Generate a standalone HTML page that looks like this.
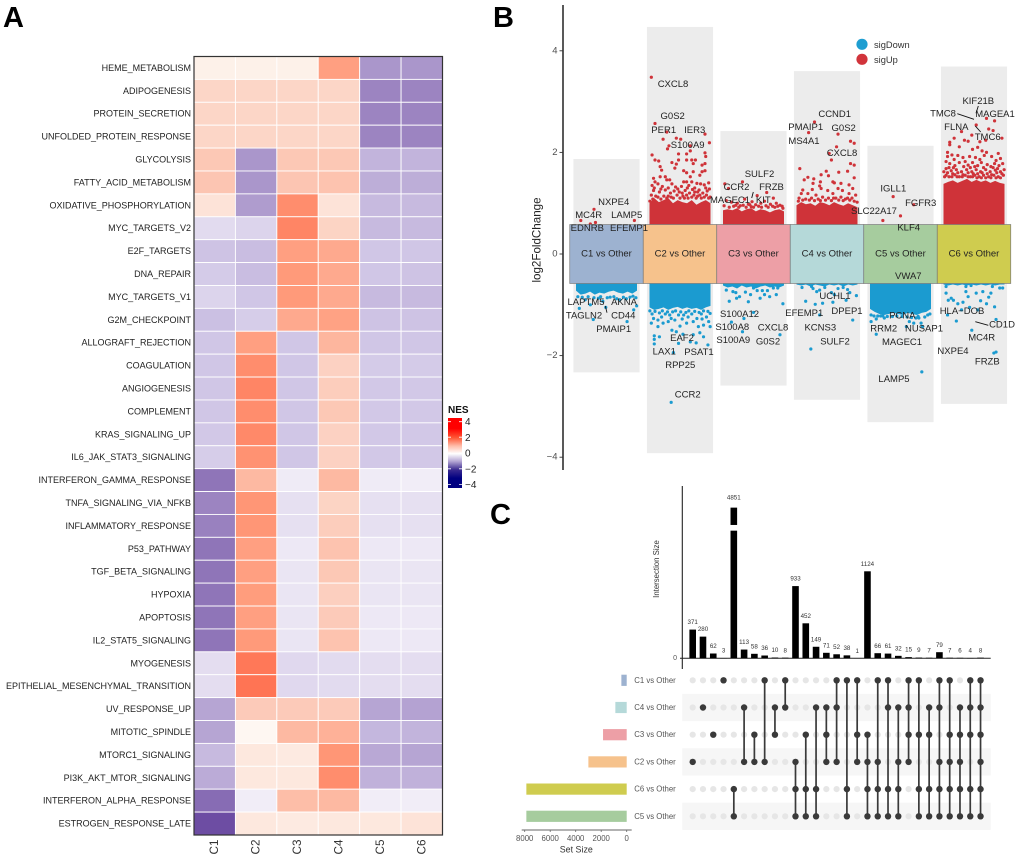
<!DOCTYPE html>
<html lang="en">
<head>
<meta charset="utf-8">
<title>NES heatmap, volcano plot and UpSet plot</title>
<style>
html,body{margin:0;padding:0;background:#fff;}
svg{display:block;font-family:"Liberation Sans",sans-serif;}
.gene{font-size:9.5px;fill:#222;text-anchor:middle;dominant-baseline:central;}
.panel{font-size:29px;font-weight:700;fill:#000;}
</style>
</head>
<body>
<svg id="fig" xmlns="http://www.w3.org/2000/svg" width="1020" height="861" viewBox="0 0 1020 861">
  <defs>
    <linearGradient id="nesGrad" x1="0" y1="0" x2="0" y2="1">
      <stop offset="0" stop-color="#ff0000"/>
      <stop offset="0.15" stop-color="#ff0000"/>
      <stop offset="0.28" stop-color="#ff5533"/>
      <stop offset="0.40" stop-color="#ffbdaa"/>
      <stop offset="0.51" stop-color="#ffffff"/>
      <stop offset="0.62" stop-color="#b3a5d3"/>
      <stop offset="0.74" stop-color="#3a2a90"/>
      <stop offset="0.86" stop-color="#000080"/>
      <stop offset="1" stop-color="#000080"/>
    </linearGradient>
  </defs>

  <text class="panel" x="3" y="27">A</text>
  <text class="panel" x="493" y="27">B</text>
  <text class="panel" x="490" y="524">C</text>

  <g id="heatmap"></g>

  <g>
    <text x="448" y="413" font-size="10" font-weight="700" fill="#111">NES</text>
    <rect x="448" y="418" width="14" height="70" fill="url(#nesGrad)"/>
    <g stroke="#fff" stroke-width="0.8">
      <path d="M448 421.7h3M459 421.7h3M448 437.2h3M459 437.2h3M448 453h3M459 453h3M448 468.8h3M459 468.8h3M448 484.5h3M459 484.5h3"/>
    </g>
    <g font-size="10" fill="#222">
      <text x="465" y="425">4</text>
      <text x="465" y="441">2</text>
      <text x="465" y="456.5">0</text>
      <text x="465" y="472.5">−2</text>
      <text x="465" y="488">−4</text>
    </g>
  </g>

  <g id="volcano"></g>

  <g>
    <text class="gene" x="673" y="84.7">CXCL8</text>
    <text class="gene" x="672.7" y="116.3">G0S2</text>
    <text class="gene" x="663.7" y="130.3">PER1</text>
    <text class="gene" x="694.7" y="130.3">IER3</text>
    <text class="gene" x="687.7" y="145.7">S100A9</text>
    <text class="gene" x="613.7" y="202.3">NXPE4</text>
    <text class="gene" x="588.7" y="215.3">MC4R</text>
    <text class="gene" x="626.7" y="215.3">LAMP5</text>
    <text class="gene" x="587.3" y="228.7">EDNRB</text>
    <text class="gene" x="629" y="228.7">EFEMP1</text>
    <text class="gene" x="759.5" y="174.5">SULF2</text>
    <text class="gene" x="736.5" y="187.3">CCR2</text>
    <text class="gene" x="771.5" y="187.3">FRZB</text>
    <text class="gene" x="730" y="200.3">MAGEC1</text>
    <text class="gene" x="763.3" y="200.3">KIT</text>
    <text class="gene" x="834.7" y="114.3">CCND1</text>
    <text class="gene" x="805.7" y="127.7">PMAIP1</text>
    <text class="gene" x="843.7" y="128.7">G0S2</text>
    <text class="gene" x="804" y="141.3">MS4A1</text>
    <text class="gene" x="842" y="153.7">CXCL8</text>
    <text class="gene" x="893.3" y="189">IGLL1</text>
    <text class="gene" x="920.7" y="203.7">FGFR3</text>
    <text class="gene" x="874" y="211.7">SLC22A17</text>
    <text class="gene" x="908.7" y="228">KLF4</text>
    <text class="gene" x="978.3" y="101.7">KIF21B</text>
    <text class="gene" x="943" y="114">TMC8</text>
    <text class="gene" x="995" y="114.3">MAGEA1</text>
    <text class="gene" x="956.3" y="127.7">FLNA</text>
    <text class="gene" x="987.7" y="137.3">TMC6</text>
    <text class="gene" x="908.3" y="276.7">VWA7</text>
    <text class="gene" x="586" y="302.7">LAPTM5</text>
    <text class="gene" x="624" y="302.3">AKNA</text>
    <text class="gene" x="584" y="316">TAGLN2</text>
    <text class="gene" x="623.3" y="316">CD44</text>
    <text class="gene" x="613.7" y="329.3">PMAIP1</text>
    <text class="gene" x="682" y="338.7">EAF2</text>
    <text class="gene" x="664.3" y="352">LAX1</text>
    <text class="gene" x="699" y="352.3">PSAT1</text>
    <text class="gene" x="680.3" y="365.3">RPP25</text>
    <text class="gene" x="687.7" y="395">CCR2</text>
    <text class="gene" x="739.5" y="314.3">S100A12</text>
    <text class="gene" x="732.3" y="327.3">S100A8</text>
    <text class="gene" x="733.3" y="340.7">S100A9</text>
    <text class="gene" x="773" y="328">CXCL8</text>
    <text class="gene" x="768" y="342">G0S2</text>
    <text class="gene" x="835" y="296.7">UCHL1</text>
    <text class="gene" x="847" y="311.3">DPEP1</text>
    <text class="gene" x="804.3" y="313.7">EFEMP1</text>
    <text class="gene" x="820.3" y="328">KCNS3</text>
    <text class="gene" x="835" y="342">SULF2</text>
    <text class="gene" x="902.3" y="316">PCNA</text>
    <text class="gene" x="883.7" y="329">RRM2</text>
    <text class="gene" x="924" y="329">NUSAP1</text>
    <text class="gene" x="902" y="342.3">MAGEC1</text>
    <text class="gene" x="894" y="379.3">LAMP5</text>
    <text class="gene" x="962" y="311.7">HLA−DOB</text>
    <text class="gene" x="1002" y="325">CD1D</text>
    <text class="gene" x="981.7" y="338">MC4R</text>
    <text class="gene" x="953" y="351.3">NXPE4</text>
    <text class="gene" x="987.3" y="362">FRZB</text>
    <path d="M957.3 113.7L974 119.3M978.3 106L976 113.3M975.3 126L980.7 132M751.7 198L753.3 192M605.3 306L607 312.7M975.3 321.7L988.3 325.3" stroke="#111" stroke-width="0.9" fill="none"/>
  </g>

  <g>
    <circle cx="862" cy="44.3" r="5.6" fill="#1f9ed1"/>
    <circle cx="862" cy="59.3" r="5.6" fill="#d1343b"/>
    <text x="874" y="48" font-size="9.3" fill="#333">sigDown</text>
    <text x="874" y="63" font-size="9.3" fill="#333">sigUp</text>
  </g>

  <g id="upset"></g>
</svg>

<script>
/* ---------- Panel A data ---------- */
const hallmarkPathways = ["HEME_METABOLISM","ADIPOGENESIS","PROTEIN_SECRETION","UNFOLDED_PROTEIN_RESPONSE","GLYCOLYSIS","FATTY_ACID_METABOLISM","OXIDATIVE_PHOSPHORYLATION","MYC_TARGETS_V2","E2F_TARGETS","DNA_REPAIR","MYC_TARGETS_V1","G2M_CHECKPOINT","ALLOGRAFT_REJECTION","COAGULATION","ANGIOGENESIS","COMPLEMENT","KRAS_SIGNALING_UP","IL6_JAK_STAT3_SIGNALING","INTERFERON_GAMMA_RESPONSE","TNFA_SIGNALING_VIA_NFKB","INFLAMMATORY_RESPONSE","P53_PATHWAY","TGF_BETA_SIGNALING","HYPOXIA","APOPTOSIS","IL2_STAT5_SIGNALING","MYOGENESIS","EPITHELIAL_MESENCHYMAL_TRANSITION","UV_RESPONSE_UP","MITOTIC_SPINDLE","MTORC1_SIGNALING","PI3K_AKT_MTOR_SIGNALING","INTERFERON_ALPHA_RESPONSE","ESTROGEN_RESPONSE_LATE"];
const clusterNames = ["C1","C2","C3","C4","C5","C6"];
const nesValues = [
[0.2,0.2,0.2,1.9,-1.8,-1.8],
[0.8,0.8,0.8,0.8,-2.1,-2.1],
[0.8,0.8,0.8,0.8,-2.1,-2.1],
[0.8,0.8,0.8,0.8,-2.1,-2.1],
[1.1,-1.8,1.1,1.1,-1.3,-1.3],
[1.15,-1.8,1.15,1.2,-1.4,-1.4],
[0.5,-1.7,2.3,0.5,-1.2,-1.2],
[-0.55,-0.7,2.5,0.85,-1.2,-1.2],
[-1.05,-1.15,1.9,1.7,-1,-1],
[-0.9,-1.15,2,1.7,-1,-1.05],
[-0.7,-1,2,1.7,-1.2,-1.2],
[-1.1,-0.85,1.7,1.85,-1.05,-1.05],
[-1,1.9,-1,1.45,-1,-1],
[-1,2.3,-1,0.9,-0.9,-0.9],
[-1,2.5,-1,1,-0.95,-0.95],
[-1,2.3,-1,1.1,-0.95,-0.95],
[-0.95,2.4,-1,0.9,-0.95,-0.95],
[-0.85,2.2,-1,0.9,-0.95,-0.95],
[-2.35,1.4,-0.25,1.4,-0.25,-0.2],
[-2.1,2.1,-0.45,0.85,-0.45,-0.45],
[-2.15,2.1,-0.45,1,-0.45,-0.45],
[-2.35,1.9,-0.3,1.2,-0.3,-0.3],
[-2.35,1.9,-0.35,1.1,-0.35,-0.35],
[-2.35,1.95,-0.35,0.95,-0.35,-0.35],
[-2.35,1.9,-0.35,1.05,-0.3,-0.3],
[-2.35,2,-0.35,1.2,-0.3,-0.3],
[-0.5,2.8,-0.6,-0.55,-0.5,-0.5],
[-0.5,2.9,-0.6,-0.55,-0.5,-0.5],
[-1.55,1.05,1.05,1.05,-1.55,-1.6],
[-1.55,0.1,1.4,1.55,-1.25,-1.3],
[-1.2,0.4,0.35,2.1,-1.5,-1.55],
[-1.45,0.4,0.4,2.3,-1.35,-1.35],
[-2.5,-0.2,1.3,1.4,-0.2,-0.2],
[-3,0.4,0.35,0.4,0.4,0.5]
];

/* ---------- Panel B data ---------- */
const comparisonNames = ["C1 vs Other","C2 vs Other","C3 vs Other","C4 vs Other","C5 vs Other","C6 vs Other"];
const comparisonFill = ["#9db2d0","#f6c28c","#ed9fa6","#b5d9d9","#a6cc9e","#cfcc4f"];
const yTickValues = [4,2,0,-2,-4];
const groupMaxFC = [1.87,4.47,2.42,3.6,2.13,3.69];
const groupMinFC = [-2.33,-3.92,-2.59,-2.87,-3.31,-2.95];
/* dense-mass upper/lower edges, log2FC sampled evenly across each group's jitter range */
const massUp = [
 [],
 [1.0,1.1,1.02,1.06,1.1,1.0,1.06,1.02,1.0,1.06,0.97,1.02,1.06,1.0],
 [0.86,0.88,0.86,0.9,0.84,0.88,0.9,0.84,0.88,0.86,0.82,0.86,0.88,0.84],
 [0.96,1.02,0.98,1.0,0.95,1.02,1.0,0.96,1.02,0.98,0.95,1.0,0.96,0.92],
 [],
 [1.38,1.42,1.45,1.4,1.44,1.48,1.42,1.46,1.42,1.45,1.4,1.44,1.4,1.38]
];
const massDown = [
 [-0.72,-0.8,-0.78,-0.74,-0.8,-0.76,-0.78,-0.74,-0.72,-0.76,-0.78,-0.74,-0.78,-0.72],
 [-1.05,-1.1,-1.08,-1.05,-1.1,-1.06,-1.04,-1.08,-1.05,-1.08,-1.06,-1.1,-1.05,-1.02],
 [-0.62,-0.66,-0.64,-0.68,-0.62,-0.66,-0.64,-0.68,-0.64,-0.62,-0.66,-0.64,-0.66,-0.62],
 [-0.6,-0.62,-0.6,-0.64,-0.6,-0.62,-0.64,-0.6,-0.62,-0.6,-0.64,-0.6,-0.62,-0.6],
 [-1.08,-1.14,-1.18,-1.2,-1.18,-1.16,-1.18,-1.2,-1.16,-1.18,-1.2,-1.16,-1.14,-1.08],
 [-0.6,-0.62,-0.6,-0.62,-0.6,-0.62,-0.6,-0.62,-0.6,-0.62,-0.6,-0.62,-0.6,-0.6]
];
/* individual genes: [jitter within group, log2FC] */
const upPoints = [
 [[-0.35,0.66],[-0.17,0.88],[-0.22,0.59],[-0.15,0.62],[0.38,0.66]],
 [[-0.39,3.48],[-0.34,2.57],[-0.18,2.4],[-0.23,2.26],[-0.05,2.28],[0.01,2.26],[0.34,2.36],[0.4,2.19],[-0.15,2.13],[-0.17,2.07],[0.14,2.13],[0.14,2.03],[0.09,1.97],[-0.38,1.95],[-0.02,1.97],[0.34,1.99],[0.35,1.92],[-0.34,1.85],[-0.29,1.83],[-0.02,1.85],[0.09,1.85],[0.16,1.85],[0.21,1.85],[-0.11,1.8],[-0.05,1.77],[0.18,1.78],[0.3,1.75],[0.34,1.78],[-0.27,1.72],[-0.25,1.65],[-0.07,1.69],[0.05,1.64],[0.09,1.6],[0.3,1.62],[0.34,1.64],[-0.27,1.52],[-0.2,1.52],[0.14,1.52],[0.18,1.62],[-0.36,1.49],[0.27,1.55],[-0.34,1.42],[-0.18,1.46],[-0.14,1.46],[0.05,1.42],[0.09,1.42],[0.16,1.42],[0.23,1.39],[-0.38,1.35],[-0.3,1.38],[-0.24,1.33],[-0.11,1.38],[-0.06,1.32],[0.02,1.33],[0.12,1.35],[0.2,1.3],[0.28,1.38],[0.33,1.36],[0.39,1.4],[-0.36,1.25],[-0.28,1.22],[-0.2,1.26],[-0.13,1.2],[-0.08,1.24],[-0.01,1.22],[0.07,1.25],[0.13,1.2],[0.2,1.22],[0.26,1.26],[0.31,1.2],[0.37,1.24],[-0.33,1.14],[-0.16,1.14],[0.04,1.14],[0.24,1.14],[0.41,1.12],
  [-0.39,1.16],[-0.37,1.08],[-0.3,1.12],[-0.26,1.08],[-0.22,1.14],[-0.18,1.1],[-0.12,1.12],[-0.09,1.1],[-0.04,1.16],[0,1.1],[0.03,1.2],[0.06,1.1],[0.09,1.16],[0.11,1.1],[0.16,1.12],[0.19,1.16],[0.22,1.1],[0.27,1.16],[0.29,1.1],[0.33,1.12],[0.36,1.16],[0.39,1.1],[-0.41,1.04],[-0.35,1.3],[-0.26,1.28],[-0.16,1.3],[-0.03,1.28],[0.1,1.3],[0.17,1.27],[0.24,1.22],[0.35,1.3],[0.4,1.28]],
 [[-0.39,1.38],[-0.34,1.29],[-0.15,1.42],[0.05,1.15],[0.18,1.21],[-0.02,1.03],[0.27,1.1],[-0.37,1.05],[-0.3,1.02],[-0.22,1.0],[-0.12,1.08],[-0.07,0.98],[0.1,1.0],[0.15,1.04],[0.23,0.98],[0.31,1.0],[0.36,0.96],[0.39,0.94],[-0.27,0.94],[-0.18,0.95],[-0.03,0.93],[0.07,0.94],
  [-0.4,0.95],[-0.33,0.92],[-0.24,0.96],[-0.2,0.92],[-0.14,0.96],[-0.1,0.92],[-0.05,0.97],[0,0.92],[0.03,0.97],[0.11,0.92],[0.17,0.95],[0.2,0.92],[0.26,0.94],[0.29,0.92],[0.33,0.94],[0.4,0.9]],
 [[-0.17,2.6],[-0.25,2.39],[0.15,2.36],[0.32,2.22],[0.37,2.18],[0.13,2.11],[0.03,1.98],[0.06,1.85],[0.32,1.78],[0.37,1.75],[-0.37,1.68],[-0.01,1.63],[0.16,1.61],[0.28,1.63],[0.02,1.54],[-0.26,1.51],[-0.18,1.48],[-0.31,1.46],[-0.08,1.56],[-0.09,1.42],[0.37,1.5],[0.08,1.42],[-0.19,1.39],[-0.1,1.34],[0.1,1.4],[0.19,1.39],[-0.33,1.26],[0.3,1.36],[0.35,1.29],[-0.2,1.27],[-0.08,1.29],[0.01,1.25],[0.15,1.29],[0.21,1.25],[0.3,1.19],[0.39,1.16],[-0.35,1.19],[-0.26,1.19],[-0.15,1.16],[0.08,1.19],[-0.38,1.1],[-0.29,1.08],[-0.06,1.12],[0.12,1.1],[0.25,1.08],[0.34,1.1],
  [-0.39,1.04],[-0.33,1.06],[-0.24,1.06],[-0.21,1.1],[-0.17,1.05],[-0.12,1.08],[-0.09,1.05],[-0.02,1.06],[0.02,1.1],[0.06,1.05],[0.09,1.1],[0.16,1.06],[0.19,1.12],[0.22,1.05],[0.28,1.1],[0.31,1.06],[0.37,1.04],[0.41,1.02]],
 [[-0.1,1.13],[0,0.75],[-0.24,0.66],[0.18,0.97]],
 [[0.17,2.67],[0.28,2.62],[0.03,2.54],[-0.17,2.41],[0.2,2.46],[0.26,2.43],[-0.03,2.34],[0.38,2.28],[-0.27,2.28],[-0.33,2.2],[-0.13,2.24],[-0.08,2.22],[0.08,2.21],[0.16,2.24],[-0.33,2.15],[-0.2,2.11],[0.05,2.1],[-0.02,2.06],[0.11,2.03],[0.17,2.0],[0.14,1.94],[-0.36,2.0],[-0.36,1.92],[-0.3,1.95],[-0.27,1.86],[-0.22,1.94],[-0.15,1.9],[-0.06,1.92],[0.02,1.9],[0.08,1.86],[0.24,1.92],[0.33,1.98],[0.36,1.88],[0.3,1.84],[-0.38,1.82],[-0.33,1.78],[-0.26,1.74],[-0.2,1.8],[-0.12,1.82],[-0.08,1.75],[-0.02,1.8],[0.05,1.74],[0.1,1.8],[0.18,1.76],[0.23,1.72],[0.28,1.78],[0.34,1.74],[0.39,1.78],[-0.38,1.68],[-0.31,1.64],[-0.24,1.66],[-0.17,1.62],[-0.1,1.66],[-0.03,1.62],[0.03,1.66],[0.09,1.62],[0.16,1.66],[0.22,1.62],[0.29,1.65],[0.36,1.62],[-0.38,1.55],[-0.34,1.52],[-0.26,1.56],[-0.2,1.52],[-0.12,1.55],[-0.05,1.52],[0.01,1.55],[0.07,1.52],[0.13,1.55],[0.2,1.52],[0.27,1.55],[0.33,1.52],[0.4,1.55],
  [-0.41,1.62],[-0.36,1.6],[-0.29,1.58],[-0.22,1.6],[-0.15,1.56],[-0.08,1.6],[-0.01,1.58],[0.05,1.58],[0.11,1.6],[0.18,1.58],[0.24,1.56],[0.31,1.6],[0.38,1.58],[0.41,1.66],[-0.4,1.52],[-0.3,1.52],[-0.23,1.52],[-0.16,1.52],[-0.08,1.52],[-0.02,1.52],[0.04,1.5],[0.1,1.5],[0.16,1.5],[0.23,1.5],[0.3,1.5],[0.36,1.5],[-0.34,1.7],[-0.28,1.7],[-0.14,1.72],[-0.05,1.7],[0.01,1.72],[0.13,1.7],[0.26,1.7],[0.32,1.68]]
];
const downPoints = [
 [[-0.37,-1.07],[-0.22,-1.0],[-0.18,-1.29],[0.28,-1.33],[0.37,-1.1],[-0.01,-1.05],[0.41,-1.02],[-0.29,-0.9],[0.18,-0.9],[-0.11,-0.87],[0.05,-0.85],[-0.33,-0.85],[0.32,-0.85],[-0.05,-0.93],
  [-0.39,-0.84],[-0.25,-0.84],[-0.17,-0.86],[-0.08,-0.84],[0.01,-0.86],[0.1,-0.84],[0.14,-0.88],[0.23,-0.85],[0.27,-0.88],[0.36,-0.83],[0.4,-0.86]],
 [[-0.12,-2.92],[-0.09,-1.94],[-0.35,-1.61],[-0.35,-1.68],[-0.35,-1.77],[-0.28,-1.63],[-0.02,-1.76],[0.38,-1.79],[0.22,-1.75],[0.14,-1.73],[0.32,-1.63],[0.27,-1.55],[0.18,-1.59],[0.04,-1.58],[-0.05,-1.53],[-0.11,-1.5],[-0.39,-1.36],[-0.3,-1.43],[-0.23,-1.36],[-0.16,-1.33],[-0.07,-1.3],[0,-1.42],[0.09,-1.36],[0.18,-1.33],[0.25,-1.43],[0.32,-1.4],[0.39,-1.33],[0.41,-1.43],[-0.36,-1.27],[-0.25,-1.24],[-0.14,-1.2],[-0.02,-1.2],[0.11,-1.24],[0.23,-1.27],[0.36,-1.24],[0.41,-1.17],[-0.3,-1.3],[-0.38,-1.18],[-0.2,-1.18],[0.05,-1.2],[0.16,-1.18],[0.29,-1.18],
  [-0.41,-1.12],[-0.34,-1.13],[-0.28,-1.16],[-0.24,-1.12],[-0.17,-1.14],[-0.1,-1.14],[-0.06,-1.12],[0.01,-1.14],[0.08,-1.15],[0.12,-1.12],[0.2,-1.13],[0.26,-1.15],[0.32,-1.12],[0.38,-1.13],[-0.12,-1.27],[0.03,-1.28],[0.3,-1.28]],
 [[-0.3,-1.34],[-0.15,-1.53],[-0.33,-0.93],[-0.37,-0.71],[-0.28,-0.74],[-0.23,-0.87],[-0.19,-0.84],[-0.07,-0.94],[-0.13,-1.27],[0,-0.67],[0.09,-0.87],[0.15,-0.8],[0,-1.15],[0.4,-0.98],[0.36,-1.59],[0.33,-0.67],[0.31,-0.8],[0.27,-0.67],[0.22,-0.84],[-0.11,-0.75],[0.05,-0.72],[-0.24,-0.76],[0.12,-0.72],[0.19,-0.72],[-0.04,-0.8]],
 [[-0.22,-1.87],[0.35,-1.3],[-0.29,-0.93],[-0.1,-1.2],[-0.16,-0.99],[-0.06,-0.97],[0.08,-0.95],[0.26,-0.91],[0.4,-0.82],[-0.34,-0.66],[-0.19,-0.68],[-0.1,-0.71],[0.06,-0.76],[0.15,-0.68],[0.22,-0.66],[0.31,-0.76],[-0.21,-0.64],[-0.03,-0.66],[0.28,-0.7],[-0.14,-0.74],[0.1,-0.8]],
 [[-0.33,-1.58],[0.29,-2.32],[-0.4,-1.33],[-0.33,-1.28],[-0.22,-1.26],[0.08,-1.43],[0.12,-1.33],[0.21,-1.26],[0.28,-1.36],[0.37,-1.2],[0.3,-1.43],[-0.36,-1.22],[0.18,-1.36],[0.25,-1.26],[-0.27,-1.22],
  [-0.4,-1.2],[-0.31,-1.22],[-0.24,-1.22],[-0.18,-1.23],[-0.11,-1.23],[-0.05,-1.22],[0.02,-1.23],[0.09,-1.24],[0.15,-1.25],[0.24,-1.23],[0.33,-1.24],[0.4,-1.18]],
 [[-0.03,-1.5],[0.3,-1.29],[-0.24,-1.32],[0.3,-1.93],[0.27,-1.95],[-0.38,-0.77],[-0.31,-0.87],[-0.17,-1.1],[-0.36,-1.2],[-0.35,-0.91],[-0.28,-0.91],[-0.11,-0.74],[-0.08,-0.84],[0.03,-0.77],[0.12,-0.74],[0.23,-0.77],[0.35,-0.67],[0.39,-0.67],[0.28,-1.04],[0.17,-0.98],[-0.06,-1.05],[0.05,-1.1],[-0.38,-0.64],[-0.11,-0.64],[-0.04,-0.62],[0.25,-0.64],[-0.22,-0.98],[0.09,-0.92],[0.2,-0.85],[-0.15,-0.95]]
];

/* ---------- Panel C data ---------- */
const intersectionSizes = [371,280,62,3,4851,113,58,36,10,8,933,452,149,71,52,38,1,1124,66,61,32,15,9,7,79,7,6,4,8];
const setNames = ["C1 vs Other","C4 vs Other","C3 vs Other","C2 vs Other","C6 vs Other","C5 vs Other"];
const setSizes = [418,890,1856,3006,7870,7870];
const setFill = ["#9db2d0","#b5d9d9","#ed9fa6","#f6c28c","#cfcc4f","#a6cc9e"];
const setAxisTicks = [8000,6000,4000,2000,0];
/* membership: indices into setNames for each intersection column */
const memberships = [[3],[1],[2],[0],[4,5],[1,3],[2,3],[0,3],[1,2],[0,1],[3,4,5],[2,4,5],[1,4,5],[1,2,3],[0,1,3],[0,4,5],[0,2,3],[2,3,4,5],[0,3,4,5],[0,1,4,5],[1,3,4,5],[0,1,2,3],[0,2,4,5],[1,2,4,5],[0,1,3,4,5],[0,2,3,4,5],[1,2,3,4,5],[0,1,2,4,5],[0,1,2,3,4,5]];

/* ---------- helpers and axis functions ---------- */
const NS = "http://www.w3.org/2000/svg";
function mk(parent, tag, attrs, txt){
  const e = document.createElementNS(NS, tag);
  for (const k in attrs) e.setAttribute(k, attrs[k]);
  if (txt !== undefined) e.textContent = txt;
  parent.appendChild(e);
  return e;
}
const heatStops = [[-4,[0,0,127]],[-3,[109,77,163]],[-2,[161,138,196]],[-1,[208,198,230]],[-0.5,[228,221,240]],[-0.15,[243,240,248]],[0,[255,255,255]],[0.15,[253,243,236]],[1,[252,205,188]],[2,[255,154,122]],[3,[255,112,80]],[4,[255,0,0]]];
function heatColor(v){
  const c = Math.max(-4, Math.min(4, v));
  for (let i = 0; i < heatStops.length - 1; i++){
    const a = heatStops[i], b = heatStops[i + 1];
    if (c <= b[0]){
      const t = (c - a[0]) / (b[0] - a[0]);
      return "rgb(" + a[1].map((p, k) => Math.round(p + (b[1][k] - p) * t)).join(",") + ")";
    }
  }
  return "#f00";
}

/* ---------- Panel A ---------- */
const hm = document.getElementById("heatmap");
const hmLeft = 194, hmTop = 56.5, hmW = 248.5, hmH = 778.5;
const hmX = j => hmLeft + j * hmW / clusterNames.length;
const hmY = i => hmTop + i * hmH / hallmarkPathways.length;
hallmarkPathways.forEach((name, i) => {
  const rowLabel = mk(hm, "text", {x:191, y:hmY(i + 0.5), "font-size":9, fill:"#222", "text-anchor":"end", "dominant-baseline":"central"}, name);
  
  
  nesValues[i].forEach((v, j) => {
    const cell = mk(hm, "rect", {x:hmX(j), y:hmY(i), width:hmW / 6, height:hmH / 34, fill:heatColor(v), stroke:"#fff", "stroke-width":0.9});
    
    
  });
});
clusterNames.forEach((name, j) => {
  const cx = hmX(j + 0.5);
  const colLabel = mk(hm, "text", {x:cx, y:847, "font-size":11.7, fill:"#333", "text-anchor":"middle", "dominant-baseline":"central", transform:"rotate(-90 " + cx + " 847)"}, name);
  
  
});
const hmFrame = mk(hm, "rect", {x:hmLeft, y:hmTop, width:hmW, height:hmH, fill:"none", stroke:"#333", "stroke-width":1.2});



/* ---------- Panel B ---------- */
const vo = document.getElementById("volcano");
const fcY = v => 254 - 50.8 * v;
const catX = c => 606.5 + 73.5 * c;
const bandHalf = 0.58;
const massHalf = 0.415;
comparisonNames.forEach((name, c) => {
  const box = mk(vo, "rect", {x:catX(c - 0.45), y:fcY(groupMaxFC[c]), width:catX(0.45) - catX(-0.45), height:fcY(groupMinFC[c]) - fcY(groupMaxFC[c]), fill:"#ececec"});
  
  
});
function drawMass(list, color, sign){
  list.forEach((edge, c) => {
    if (!edge.length) return;
    const pts = [[catX(c - massHalf), fcY(sign * bandHalf)]];
    edge.forEach((v, k) => pts.push([catX(c - massHalf + 2 * massHalf * k / (edge.length - 1)), fcY(v)]));
    pts.push([catX(c + massHalf), fcY(sign * bandHalf)]);
    const mass = mk(vo, "polygon", {points:pts.map(p => p.join(",")).join(" "), fill:color});
    
    
  });
}
drawMass(massUp, "#cf3339", 1);
drawMass(massDown, "#1b9bd0", -1);
function drawPoints(list, color){
  list.forEach((group, c) => group.forEach(p => {
    const dot = mk(vo, "circle", {cx:catX(c + p[0]), cy:fcY(p[1]), r:1.6, fill:color});
    
    
  }));
}
drawPoints(upPoints, "#cf3339");
drawPoints(downPoints, "#1b9bd0");
comparisonNames.forEach((name, c) => {
  const band = mk(vo, "rect", {x:catX(c - 0.5), y:fcY(bandHalf), width:73.5, height:fcY(-bandHalf) - fcY(bandHalf), fill:comparisonFill[c], stroke:"#7a7a7a", "stroke-width":0.7});
  
  
  const bandLabel = mk(vo, "text", {x:catX(c), y:254, "font-size":9.5, fill:"#222", "text-anchor":"middle", "dominant-baseline":"central"}, name);
  
  
});
const yAxisLine = mk(vo, "line", {x1:563, x2:563, y1:5, y2:470, stroke:"#222", "stroke-width":1.5});


yTickValues.forEach(v => {
  const tick = mk(vo, "line", {x1:559.5, x2:563, y1:fcY(v), y2:fcY(v), stroke:"#333", "stroke-width":0.9});
  
  
  const tickLabel = mk(vo, "text", {x:557.5, y:fcY(v), "font-size":9.5, fill:"#4d4d4d", "text-anchor":"end", "dominant-baseline":"central"}, v < 0 ? "−" + (-v) : String(v));
  
  
});
const yTitle = mk(vo, "text", {x:537, y:240, "font-size":11.6, fill:"#222", "text-anchor":"middle", "dominant-baseline":"central", transform:"rotate(-90 537 240)"}, "log2FoldChange");



/* ---------- Panel C ---------- */
const up = document.getElementById("upset");
const colX = i => 692.7 + 10.28 * i;
const baseY = 658.3, barScale = 0.0774;
const breakLow = 1649, breakHigh = 4627, breakGap = 5.7;
const sizeY = v => v <= breakLow ? baseY - barScale * v : baseY - barScale * (v - (breakHigh - breakLow)) - breakGap;
const rowY = r => 680.3 + 27.2 * r;
const setX = v => 626.7 - 0.01275 * v;

[1, 3, 5].forEach(r => {
  const shade = mk(up, "rect", {x:682.3, y:rowY(r) - 13.6, width:308.4, height:27.2, fill:"#f6f6f6"});
  
  
});
const intersectionAxis = mk(up, "line", {x1:682.3, x2:682.3, y1:486, y2:669, stroke:"#222", "stroke-width":1.1});


const baseline = mk(up, "line", {x1:680, x2:990.7, y1:baseY, y2:baseY, stroke:"#222", "stroke-width":1});


const zeroLabel = mk(up, "text", {x:677, y:baseY, "font-size":7, fill:"#555", "text-anchor":"end", "dominant-baseline":"central"}, "0");


const interTitle = mk(up, "text", {x:656.5, y:569, "font-size":7.8, fill:"#333", "text-anchor":"middle", "dominant-baseline":"central", transform:"rotate(-90 656.5 569)"}, "Intersection Size");



intersectionSizes.forEach((v, i) => {
  const x = colX(i) - 3.3;
  if (v > breakHigh){
    const lower = mk(up, "rect", {x:x, y:sizeY(breakLow), width:6.6, height:baseY - sizeY(breakLow), fill:"#000"});
    
    
    const upper = mk(up, "rect", {x:x, y:sizeY(v), width:6.6, height:sizeY(breakHigh) - sizeY(v), fill:"#000"});
    
    
  } else {
    const bar = mk(up, "rect", {x:x, y:sizeY(v), width:6.6, height:baseY - sizeY(v), fill:"#000"});
    
    
  }
  const barLabel = mk(up, "text", {x:colX(i), y:sizeY(v) - (v > breakHigh ? 8.2 : 5.4), "font-size":6.2, fill:"#333", "text-anchor":"middle"}, String(v));
  
  
  setNames.forEach((s, r) => {
    const emptyDot = mk(up, "circle", {cx:colX(i), cy:rowY(r), r:3.1, fill:"#e6e6e6"});
    
    
  });
});
memberships.forEach((rows, i) => {
  if (rows.length > 1){
    const link = mk(up, "line", {x1:colX(i), x2:colX(i), y1:rowY(rows[0]), y2:rowY(rows[rows.length - 1]), stroke:"#3a3a3a", "stroke-width":1.7});
    
    
  }
  rows.forEach(r => {
    const dot = mk(up, "circle", {cx:colX(i), cy:rowY(r), r:3.2, fill:"#3a3a3a"});
    
    
  });
});
setNames.forEach((name, r) => {
  const setBar = mk(up, "rect", {x:setX(setSizes[r]), y:rowY(r) - 5.6, width:setX(0) - setX(setSizes[r]), height:11.2, fill:setFill[r]});
  
  
  const setLabel = mk(up, "text", {x:655, y:rowY(r), "font-size":7.8, fill:"#555", "text-anchor":"middle", "dominant-baseline":"central"}, name);
  
  
});
const setAxis = mk(up, "line", {x1:521.7, x2:631.7, y1:830, y2:830, stroke:"#666", "stroke-width":1});


setAxisTicks.forEach(v => {
  const t = mk(up, "line", {x1:setX(v), x2:setX(v), y1:830, y2:832, stroke:"#666", "stroke-width":0.8});
  
  
  const tl = mk(up, "text", {x:setX(v), y:838.3, "font-size":7.8, fill:"#555", "text-anchor":"middle", "dominant-baseline":"central"}, String(v));
  
  
});
const setTitle = mk(up, "text", {x:576.3, y:849.7, "font-size":8.9, fill:"#333", "text-anchor":"middle", "dominant-baseline":"central"}, "Set Size");


</script>
</body>
</html>
